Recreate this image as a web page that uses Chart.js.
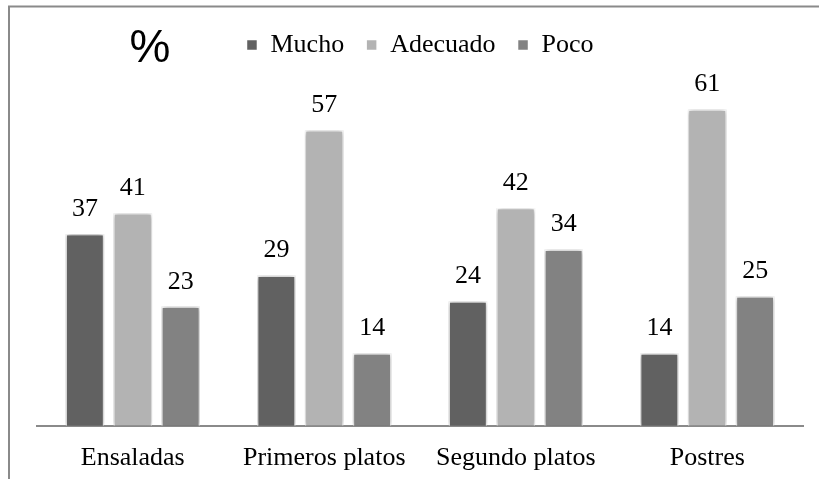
<!DOCTYPE html>
<html>
<head>
<meta charset="utf-8">
<script src="https://cdn.jsdelivr.net/npm/chart.js@4/dist/chart.umd.min.js"></script>
<style>
  html, body { margin: 0; padding: 0; background: #ffffff; }
  #wrap { position: relative; width: 819px; height: 479px; }
</style>
</head>
<body>
<div id="wrap"><canvas id="c" width="819" height="479"></canvas></div>
<script>
// Categories and series (percentages)
const categories = ["Ensaladas", "Primeros platos", "Segundo platos", "Postres"];
const seriesNames = ["Mucho", "Adecuado", "Poco"];
const mucho    = [37, 29, 24, 14];
const adecuado = [41, 57, 42, 61];
const poco     = [23, 14, 34, 25];
const unitLabel = "%";

const colors = ["#616161", "#b3b3b3", "#828282"];
const serif = "'Liberation Serif', 'Times New Roman', serif";

// Outer frame (top and left edges) plus the "%" caption
const framePlugin = {
  id: 'frame',
  beforeDraw(chart) {
    const ctx = chart.ctx;
    ctx.save();
    ctx.fillStyle = '#ffffff';
    ctx.fillRect(0, 0, chart.width, chart.height);
    ctx.strokeStyle = '#8a8a8a';
    ctx.lineWidth = 2;
    ctx.beginPath();
    ctx.moveTo(9, chart.height);
    ctx.lineTo(9, 6.5);
    ctx.lineTo(chart.width, 6.5);
    ctx.stroke();
    ctx.restore();
  },
  afterDraw(chart) {
    const ctx = chart.ctx;
    ctx.save();
    ctx.fillStyle = '#000000';
    ctx.font = "46px 'Liberation Sans', Arial, sans-serif";
    ctx.textAlign = 'center';
    ctx.textBaseline = 'alphabetic';
    ctx.fillText(unitLabel, 150, 62);
    ctx.restore();
  }
};

// Soft halo around the bars
const shadowPlugin = {
  id: 'barShadow',
  beforeDatasetsDraw(chart) {
    const ctx = chart.ctx;
    ctx.save();
    ctx.shadowColor = 'rgba(0,0,0,0.45)';
    ctx.shadowBlur = 5;
    ctx.shadowOffsetX = 0;
    ctx.shadowOffsetY = 0;
  },
  afterDatasetsDraw(chart) {
    chart.ctx.restore();
  }
};

// Value labels above each bar
const valueLabels = {
  id: 'valueLabels',
  afterDatasetsDraw(chart) {
    const ctx = chart.ctx;
    ctx.save();
    ctx.fillStyle = '#000000';
    ctx.font = "26px " + serif;
    ctx.textAlign = 'center';
    ctx.textBaseline = 'alphabetic';
    chart.data.datasets.forEach((ds, di) => {
      const meta = chart.getDatasetMeta(di);
      meta.data.forEach((bar, i) => {
        ctx.fillText(String(ds.data[i]), bar.x, bar.y - 18);
      });
    });
    ctx.restore();
  }
};

const seriesData = [mucho, adecuado, poco];

new Chart(document.getElementById('c'), {
  type: 'bar',
  data: {
    labels: categories,
    datasets: seriesNames.map((name, k) => ({
      label: name,
      data: seriesData[k],
      backgroundColor: colors[k],
      borderColor: '#ffffff',
      borderWidth: 1.5,
      categoryPercentage: 0.75,
      barPercentage: 0.81
    }))
  },
  options: {
    responsive: false,
    animation: false,
    devicePixelRatio: 1,
    layout: { padding: { left: 37, right: 16, top: 10, bottom: -12 } },
    plugins: {
      legend: {
        position: 'top',
        labels: {
          boxWidth: 11,
          boxHeight: 11,
          padding: 22,
          color: '#000000',
          font: { family: serif, size: 26 }
        }
      },
      tooltip: { enabled: false },
      title: { display: false }
    },
    scales: {
      x: {
        grid: { display: false, drawTicks: false },
        border: { display: true, color: '#8a8a8a', width: 2 },
        ticks: {
          color: '#000000',
          padding: 17,
          font: { family: serif, size: 26 }
        }
      },
      y: {
        display: false,
        min: 0,
        max: 69,
        grid: { display: false }
      }
    }
  },
  plugins: [framePlugin, shadowPlugin, valueLabels]
});
</script>
</body>
</html>
